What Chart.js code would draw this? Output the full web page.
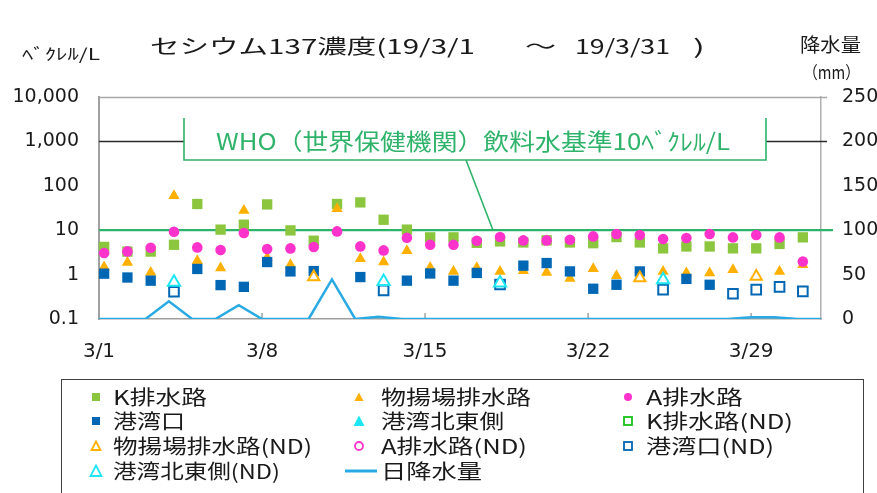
<!DOCTYPE html>
<html><head><meta charset="utf-8">
<script src="https://cdn.jsdelivr.net/npm/chart.js@4.4.1/dist/chart.umd.min.js"></script>
<style>
html,body{margin:0;padding:0;background:#fff;width:877px;height:493px;overflow:hidden;}
#wrap{position:relative;width:877px;height:493px;}
canvas{position:absolute;left:0;top:0;}
.t{position:absolute;white-space:nowrap;font-family:"Noto Sans CJK JP","Noto Sans",sans-serif;line-height:1;transform-origin:0 50%;color:#1a1a1a;display:inline-block;}
#legend{position:absolute;left:61px;top:379px;width:803px;height:130px;border:1px solid #404040;box-sizing:border-box;}
.mk{position:absolute;width:14px;height:14px;}
</style></head>
<body><div id="wrap">
<canvas id="c" width="877" height="493"></canvas>
<div id="title">
<span class="t fit" data-x="150" data-y="46" data-w="325" style="font-size:20px">セシウム137濃度(19/3/1</span>
<span class="t fit" data-x="525" data-y="46" data-w="31" style="font-size:20px">～</span>
<span class="t fit" data-x="575" data-y="46" data-w="95" style="font-size:20px">19/3/31</span>
<span class="t fit" data-x="693" data-y="46" data-w="12" style="font-size:20px">)</span>
</div>
<span class="t fit" data-x="22" data-y="53" data-w="78" style="font-size:16px">ﾍﾞｸﾚﾙ/L</span>
<span class="t fit" data-x="800" data-y="43" data-w="61" style="font-size:19px">降水量</span>
<span class="t fit" data-x="803" data-y="71" data-w="57" style="font-size:17px">（mm）</span>
<span class="t fit" data-x="216" data-y="140" data-w="514" style="font-size:23px;color:#2fb36b">WHO（世界保健機関）飲料水基準10ﾍﾞｸﾚﾙ/L</span>
<div id="legend"></div>
<div id="legendItems"></div>
</div>
<script>
// ---------- data ----------
const days = ['3/1','3/2','3/3','3/4','3/5','3/6','3/7','3/8','3/9','3/10','3/11','3/12','3/13','3/14','3/15','3/16','3/17','3/18','3/19','3/20','3/21','3/22','3/23','3/24','3/25','3/26','3/27','3/28','3/29','3/30','3/31'];
const rainDays = days.concat(['4/1']);
const seriesNames = ['K排水路','物揚場排水路','A排水路','港湾口','港湾北東側','K排水路(ND)','物揚場排水路(ND)','A排水路(ND)','港湾口(ND)','港湾北東側(ND)','日降水量'];
const kDrain = [4.2,3.3,3.3,4.7,38.9,10.3,13.3,38.1,9.9,5.8,38.9,42.3,17.2,10.3,6.9,6.9,5.2,5.6,5.3,5.9,5.3,5.1,7.0,5.3,3.9,4.3,4.3,3.9,3.9,4.9,6.9];
const wharfDrain = [1.48,1.88,1.12,59.8,2.06,1.41,27.9,2.4,1.67,null,30.5,2.28,1.92,3.45,1.45,1.18,1.43,1.18,1.22,1.12,0.82,1.36,0.94,null,1.18,1.09,1.09,1.29,null,1.18,1.67];
const aDrain = [3.07,3.33,4.04,9.25,4.1,3.58,8.65,3.77,3.89,4.18,9.4,4.32,3.51,6.78,4.71,4.71,5.8,7.03,5.89,5.89,6.11,7.25,8.21,7.8,6.34,6.67,8.21,6.88,7.8,6.88,1.98];
const harbourMouth = [1.05,0.86,0.73,null,1.34,0.58,0.53,1.92,1.18,1.2,null,0.88,null,0.73,1.06,0.73,1.09,null,1.59,1.82,1.18,0.48,0.59,1.18,null,0.80,0.59,null,null,null,null];
const harbourNE = new Array(31).fill(null);
const kDrainND = new Array(31).fill(null);
const wharfDrainND = [null,null,null,null,null,null,null,null,null,0.88,null,null,null,null,null,null,null,null,null,null,null,null,null,0.84,null,null,null,null,0.91,null,null];
const aDrainND = new Array(31).fill(null);
const harbourMouthND = [null,null,null,0.41,null,null,null,null,null,null,null,null,0.44,null,null,null,null,0.6,null,null,null,null,null,null,0.46,null,null,0.37,0.46,0.53,0.42];
const harbourNEND = [null,null,null,0.67,null,null,null,null,null,null,null,null,0.70,null,null,null,null,0.65,null,null,null,null,null,null,0.77,null,null,null,null,null,null];
const rainfall = [0,0,0,20,0,0,15.5,0,0,0,44.5,0,2.5,0,0,0,0,0,0,0,0,0,0,0,0,0,0,0,2,2,0,0];
const whoLimit = 10;
const yTicks = [0.1,1,10,100,1000,10000];
const yTickLabels = ['0.1','1','10','100','1,000','10,000'];
const xTicks = [0,7,14,21,28];
const xTickLabels = ['3/1','3/8','3/15','3/22','3/29'];
const rainTicks = [0,50,100,150,200,250];

// ---------- styling ----------
const MARKER_OFFSET = 0.22;
const C = {k:'#8cc63e', wh:'#ffb000', a:'#ff33cc', hm:'#0067b4', ne:'#1ee6f2', kND:'#19c219', rain:'#29aae3', who:'#2fb36b'};
const tickFont = {family:'DejaVu Sans', size:19};

function pts(arr){ const out=[]; arr.forEach((v,i)=>{ if(v!=null) out.push({x:i+MARKER_OFFSET, y:v}); }); return out; }
function filled(label, arr, color, style, r, order){
  return {type:'scatter', label, data:pts(arr), yAxisID:'y', pointStyle:style, pointRadius:r, pointHoverRadius:r,
    backgroundColor:color, borderColor:color, borderWidth:0, order, clip:false};
}
function hollow(label, arr, color, style, r, order){
  return {type:'scatter', label, data:pts(arr), yAxisID:'y', pointStyle:style, pointRadius:r, pointHoverRadius:r,
    backgroundColor:'#ffffff', borderColor:color, borderWidth:2, order, clip:false};
}
const datasets = [
  filled(seriesNames[0], kDrain, C.k, 'rect', 7.3, 11),
  filled(seriesNames[1], wharfDrain, C.wh, 'triangle', 6.5, 10),
  filled(seriesNames[2], aDrain, C.a, 'circle', 5.3, 9),
  filled(seriesNames[3], harbourMouth, C.hm, 'rect', 7.3, 8),
  filled(seriesNames[4], harbourNE, C.ne, 'triangle', 6.5, 7),
  hollow(seriesNames[5], kDrainND, C.kND, 'rect', 6.8, 6),
  hollow(seriesNames[6], wharfDrainND, C.wh, 'triangle', 6.5, 5),
  hollow(seriesNames[7], aDrainND, C.a, 'circle', 5, 4),
  hollow(seriesNames[8], harbourMouthND, C.hm, 'rect', 6.8, 3),
  hollow(seriesNames[9], harbourNEND, C.ne, 'triangle', 7, 2),
  {type:'line', label:seriesNames[10], data:rainfall.map((v,i)=>({x:i, y:v})), yAxisID:'y2',
   borderColor:C.rain, borderWidth:2.5, pointRadius:0, tension:0, fill:false, order:12}
];

const decor = {
  id:'decor',
  beforeDatasetsDraw(chart){
    const {ctx, chartArea:a, scales:{x,y}} = chart;
    ctx.save();
    const hline = (yy, x1, x2, col, w) => { ctx.strokeStyle=col; ctx.lineWidth=w; ctx.beginPath(); ctx.moveTo(x1,yy); ctx.lineTo(x2,yy); ctx.stroke(); };
    hline(Math.round(y.getPixelForValue(10000))+0.5, a.left, a.right+6, '#a8a8a8', 1.5);
    hline(Math.round(y.getPixelForValue(1000))+0.5, a.left, a.right+6, '#2a2a2a', 1.5);
    // inner x ticks
    ctx.strokeStyle='#a0a0a0'; ctx.lineWidth=1.5;
    xTicks.forEach(v=>{ const px=x.getPixelForValue(v); ctx.beginPath(); ctx.moveTo(px,a.bottom); ctx.lineTo(px,a.bottom-6); ctx.stroke(); });
    // WHO label box
    const bx1=184, bx2=766, by1=118, by2=160;
    ctx.fillStyle='#fff'; ctx.fillRect(bx1,by1,bx2-bx1,by2-by1);
    ctx.strokeStyle=C.who; ctx.lineWidth=1.6;
    ctx.beginPath(); ctx.moveTo(bx1,by1); ctx.lineTo(bx1,by2); ctx.lineTo(bx2,by2); ctx.lineTo(bx2,by1); ctx.stroke();
    const yl = y.getPixelForValue(whoLimit);
    ctx.beginPath(); ctx.moveTo(466,by2); ctx.lineTo(493,yl); ctx.stroke();
    hline(yl, a.left, a.right+12, C.who, 2.2);
    ctx.restore();
  }
};

new Chart(document.getElementById('c'), {
  data:{datasets},
  options:{
    responsive:false, animation:false, devicePixelRatio:1,
    layout:{padding:{top:97,left:0,right:0,bottom:0}},
    plugins:{legend:{display:false}, title:{display:false}, tooltip:{enabled:false}},
    scales:{
      x:{type:'linear', min:0, max:31, position:'bottom',
         afterFit:s=>{s.height=174;},
         afterBuildTicks:s=>{s.ticks=xTicks.map(v=>({value:v}));},
         grid:{display:false, drawTicks:false}, border:{display:true,color:'#a0a0a0',width:1.5},
         ticks:{callback:(v)=>xTickLabels[xTicks.indexOf(v)], font:{family:'DejaVu Sans',size:20}, color:'#1a1a1a', padding:21, maxRotation:0, autoSkip:false}},
      y:{type:'logarithmic', min:0.1, max:10000, position:'left',
         afterFit:s=>{s.width=99;},
         afterBuildTicks:s=>{s.ticks=yTicks.map(v=>({value:v}));},
         grid:{display:false, drawTicks:false}, border:{display:true,color:'#a0a0a0',width:2},
         ticks:{callback:(v)=>yTickLabels[yTicks.indexOf(v)], font:tickFont, color:'#1a1a1a', padding:20, autoSkip:false}},
      y2:{type:'linear', min:0, max:250, position:'right',
         afterFit:s=>{s.width=56;},
         afterBuildTicks:s=>{s.ticks=rainTicks.map(v=>({value:v}));},
         grid:{display:false, drawTicks:false}, border:{display:true,color:'#b0b0b0',width:1.5},
         ticks:{font:tickFont, color:'#1a1a1a', padding:21, autoSkip:false}}
    }
  },
  plugins:[decor]
});

// ---------- legend (HTML) ----------
const legendLayout = [
  {mx:96,tx:113,y:397,w:94,shape:'sq',col:C.k,fill:true},
  {mx:359,tx:381,y:397,w:150,shape:'tri',col:C.wh,fill:true},
  {mx:628,tx:646,y:397,w:97,shape:'ci',col:C.a,fill:true},
  {mx:96,tx:113,y:421,w:72,shape:'sq',col:C.hm,fill:true},
  {mx:359,tx:381,y:421,w:123,shape:'tri',col:C.ne,fill:true,big:true},
  {mx:628,tx:646,y:421,w:147,shape:'sq',col:C.kND,fill:false},
  {mx:96,tx:113,y:446,w:199,shape:'tri',col:C.wh,fill:false},
  {mx:359,tx:381,y:446,w:146,shape:'ci',col:C.a,fill:false},
  {mx:628,tx:646,y:446,w:128,shape:'sq',col:C.hm,fill:false},
  {mx:96,tx:113,y:471,w:167,shape:'tri',col:C.ne,fill:false,big:true},
  {mx:361,tx:381,y:471,w:101,shape:'line',col:C.rain}
];
const li = document.getElementById('legendItems');
legendLayout.forEach((L,i)=>{
  let svg;
  if(L.shape==='line'){
    svg = `<svg style="position:absolute;left:${L.mx-16}px;top:${L.y-3}px" width="32" height="6"><line x1="0" y1="3" x2="32" y2="3" stroke="${L.col}" stroke-width="3"/></svg>`;
  } else {
    const f = L.fill ? L.col : '#fff', sw = L.fill ? 0 : 1.8;
    let shape;
    if(L.shape==='sq') shape = `<rect x="3" y="3" width="8" height="8" fill="${f}" stroke="${L.col}" stroke-width="${sw}"/>`;
    else if(L.shape==='ci') shape = `<circle cx="7" cy="7" r="4" fill="${f}" stroke="${L.col}" stroke-width="${sw}"/>`;
    else shape = L.big ? `<polygon points="7,1.5 12.5,12 1.5,12" fill="${f}" stroke="${L.col}" stroke-width="${sw}"/>` : `<polygon points="7,2.5 11.5,11 2.5,11" fill="${f}" stroke="${L.col}" stroke-width="${sw}"/>`;
    svg = `<svg class="mk" style="left:${L.mx-7}px;top:${L.y-7}px" width="14" height="14">${shape}</svg>`;
  }
  li.insertAdjacentHTML('beforeend', svg + `<span class="t fit" data-x="${L.tx}" data-y="${L.y}" data-w="${L.w}" style="font-size:20px">${seriesNames[i]}</span>`);
});

function fitAll(){
  document.querySelectorAll('.fit').forEach(el=>{
    el.style.transform='none';
    const fs = parseFloat(el.style.fontSize);
    el.style.left = el.dataset.x+'px';
    el.style.top = (parseFloat(el.dataset.y) - fs/2)+'px';
    const w = el.getBoundingClientRect().width;
    if(w>0) el.style.transform = `scaleX(${parseFloat(el.dataset.w)/w})`;
  });
}
fitAll();
if(document.fonts && document.fonts.ready) document.fonts.ready.then(fitAll);
</script>
</body></html>
